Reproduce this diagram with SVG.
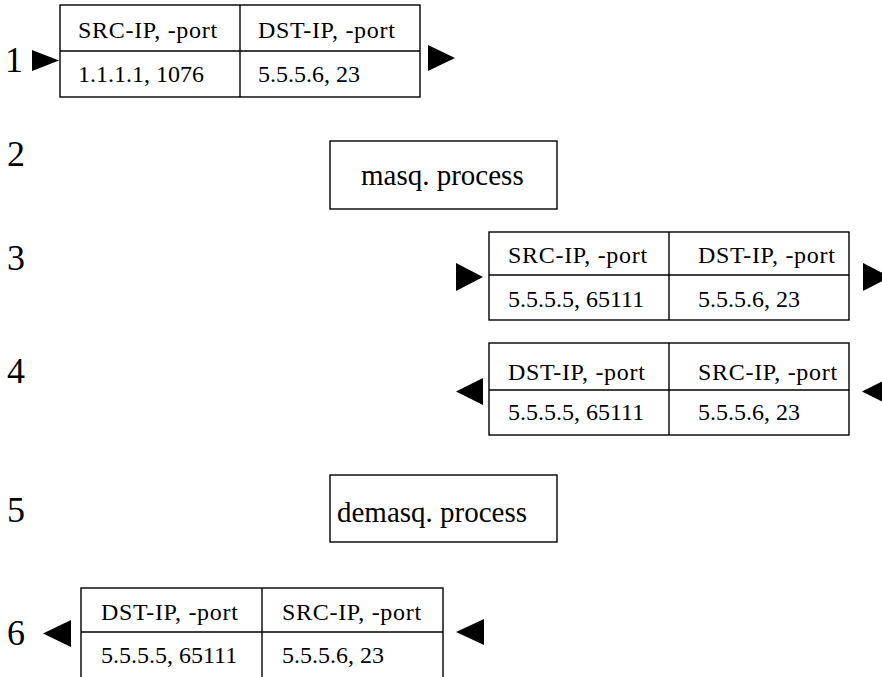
<svg xmlns="http://www.w3.org/2000/svg" width="882" height="677" viewBox="0 0 882 677">
<style>
.box{fill:#fff;stroke:#000;stroke-width:1.4}
.ln{stroke:#000;stroke-width:1.4;fill:none}
.t{font-family:"Liberation Serif","Times New Roman",serif;font-size:24px;fill:#000}
.h{letter-spacing:0.7px}
.p{font-family:"Liberation Serif","Times New Roman",serif;font-size:29px;fill:#000}
.n{font-family:"Liberation Serif","Times New Roman",serif;font-size:36px;fill:#000}
.ar{fill:#000}
</style>
<rect width="882" height="677" fill="#fff"/>
<g id="labels">
<text class="n" x="5" y="72">1</text>
<text class="n" x="7" y="166">2</text>
<text class="n" x="7" y="270">3</text>
<text class="n" x="7" y="383">4</text>
<text class="n" x="7" y="522">5</text>
<text class="n" x="7" y="645">6</text>
</g>
<g id="packet1">
<rect class="box" x="60" y="5" width="360" height="92"/>
<line class="ln" x1="60" y1="51" x2="420" y2="51"/>
<line class="ln" x1="240" y1="5" x2="240" y2="97"/>
<text class="t h" x="78" y="38">SRC-IP, -port</text>
<text class="t h" x="258" y="38">DST-IP, -port</text>
<text class="t" x="78" y="82">1.1.1.1, 1076</text>
<text class="t" x="258" y="82">5.5.5.6, 23</text>
</g>
<g id="masq">
<rect class="box" x="330" y="141" width="227" height="68"/>
<text class="p" x="361" y="185">masq. process</text>
</g>
<g id="packet3">
<rect class="box" x="489" y="232" width="360" height="88"/>
<line class="ln" x1="489" y1="275" x2="849" y2="275"/>
<line class="ln" x1="669" y1="232" x2="669" y2="320"/>
<text class="t h" x="508" y="263">SRC-IP, -port</text>
<text class="t h" x="698" y="263">DST-IP, -port</text>
<text class="t" x="508" y="307">5.5.5.5, 65111</text>
<text class="t" x="698" y="307">5.5.5.6, 23</text>
</g>
<g id="packet4">
<rect class="box" x="489" y="343" width="360" height="92"/>
<line class="ln" x1="489" y1="390" x2="849" y2="390"/>
<line class="ln" x1="669" y1="343" x2="669" y2="435"/>
<text class="t h" x="508" y="380">DST-IP, -port</text>
<text class="t h" x="698" y="380">SRC-IP, -port</text>
<text class="t" x="508" y="420">5.5.5.5, 65111</text>
<text class="t" x="698" y="420">5.5.5.6, 23</text>
</g>
<g id="demasq">
<rect class="box" x="330" y="475" width="227" height="67"/>
<text class="p" x="337" y="522">demasq. process</text>
</g>
<g id="packet6">
<rect class="box" x="81" y="588" width="362" height="100"/>
<line class="ln" x1="81" y1="632" x2="443" y2="632"/>
<line class="ln" x1="262" y1="588" x2="262" y2="688"/>
<text class="t h" x="101" y="620">DST-IP, -port</text>
<text class="t h" x="282" y="620">SRC-IP, -port</text>
<text class="t" x="101" y="663">5.5.5.5, 65111</text>
<text class="t" x="282" y="663">5.5.5.6, 23</text>
</g>
<g id="connectors">
<polygon class="ar" points="32,50 59,60.5 32,71"/>
<polygon class="ar" points="428,45 455,58 428,71"/>
<polygon class="ar" points="456,263 483,277 456,291"/>
<polygon class="ar" points="863,263 890,277 863,291"/>
<polygon class="ar" points="483,378 456,391.5 483,405"/>
<polygon class="ar" points="889,378 862,391.5 889,405"/>
<polygon class="ar" points="71,620 43,633.5 71,647"/>
<polygon class="ar" points="484,619 456,632 484,645"/>
</g>
</svg>
